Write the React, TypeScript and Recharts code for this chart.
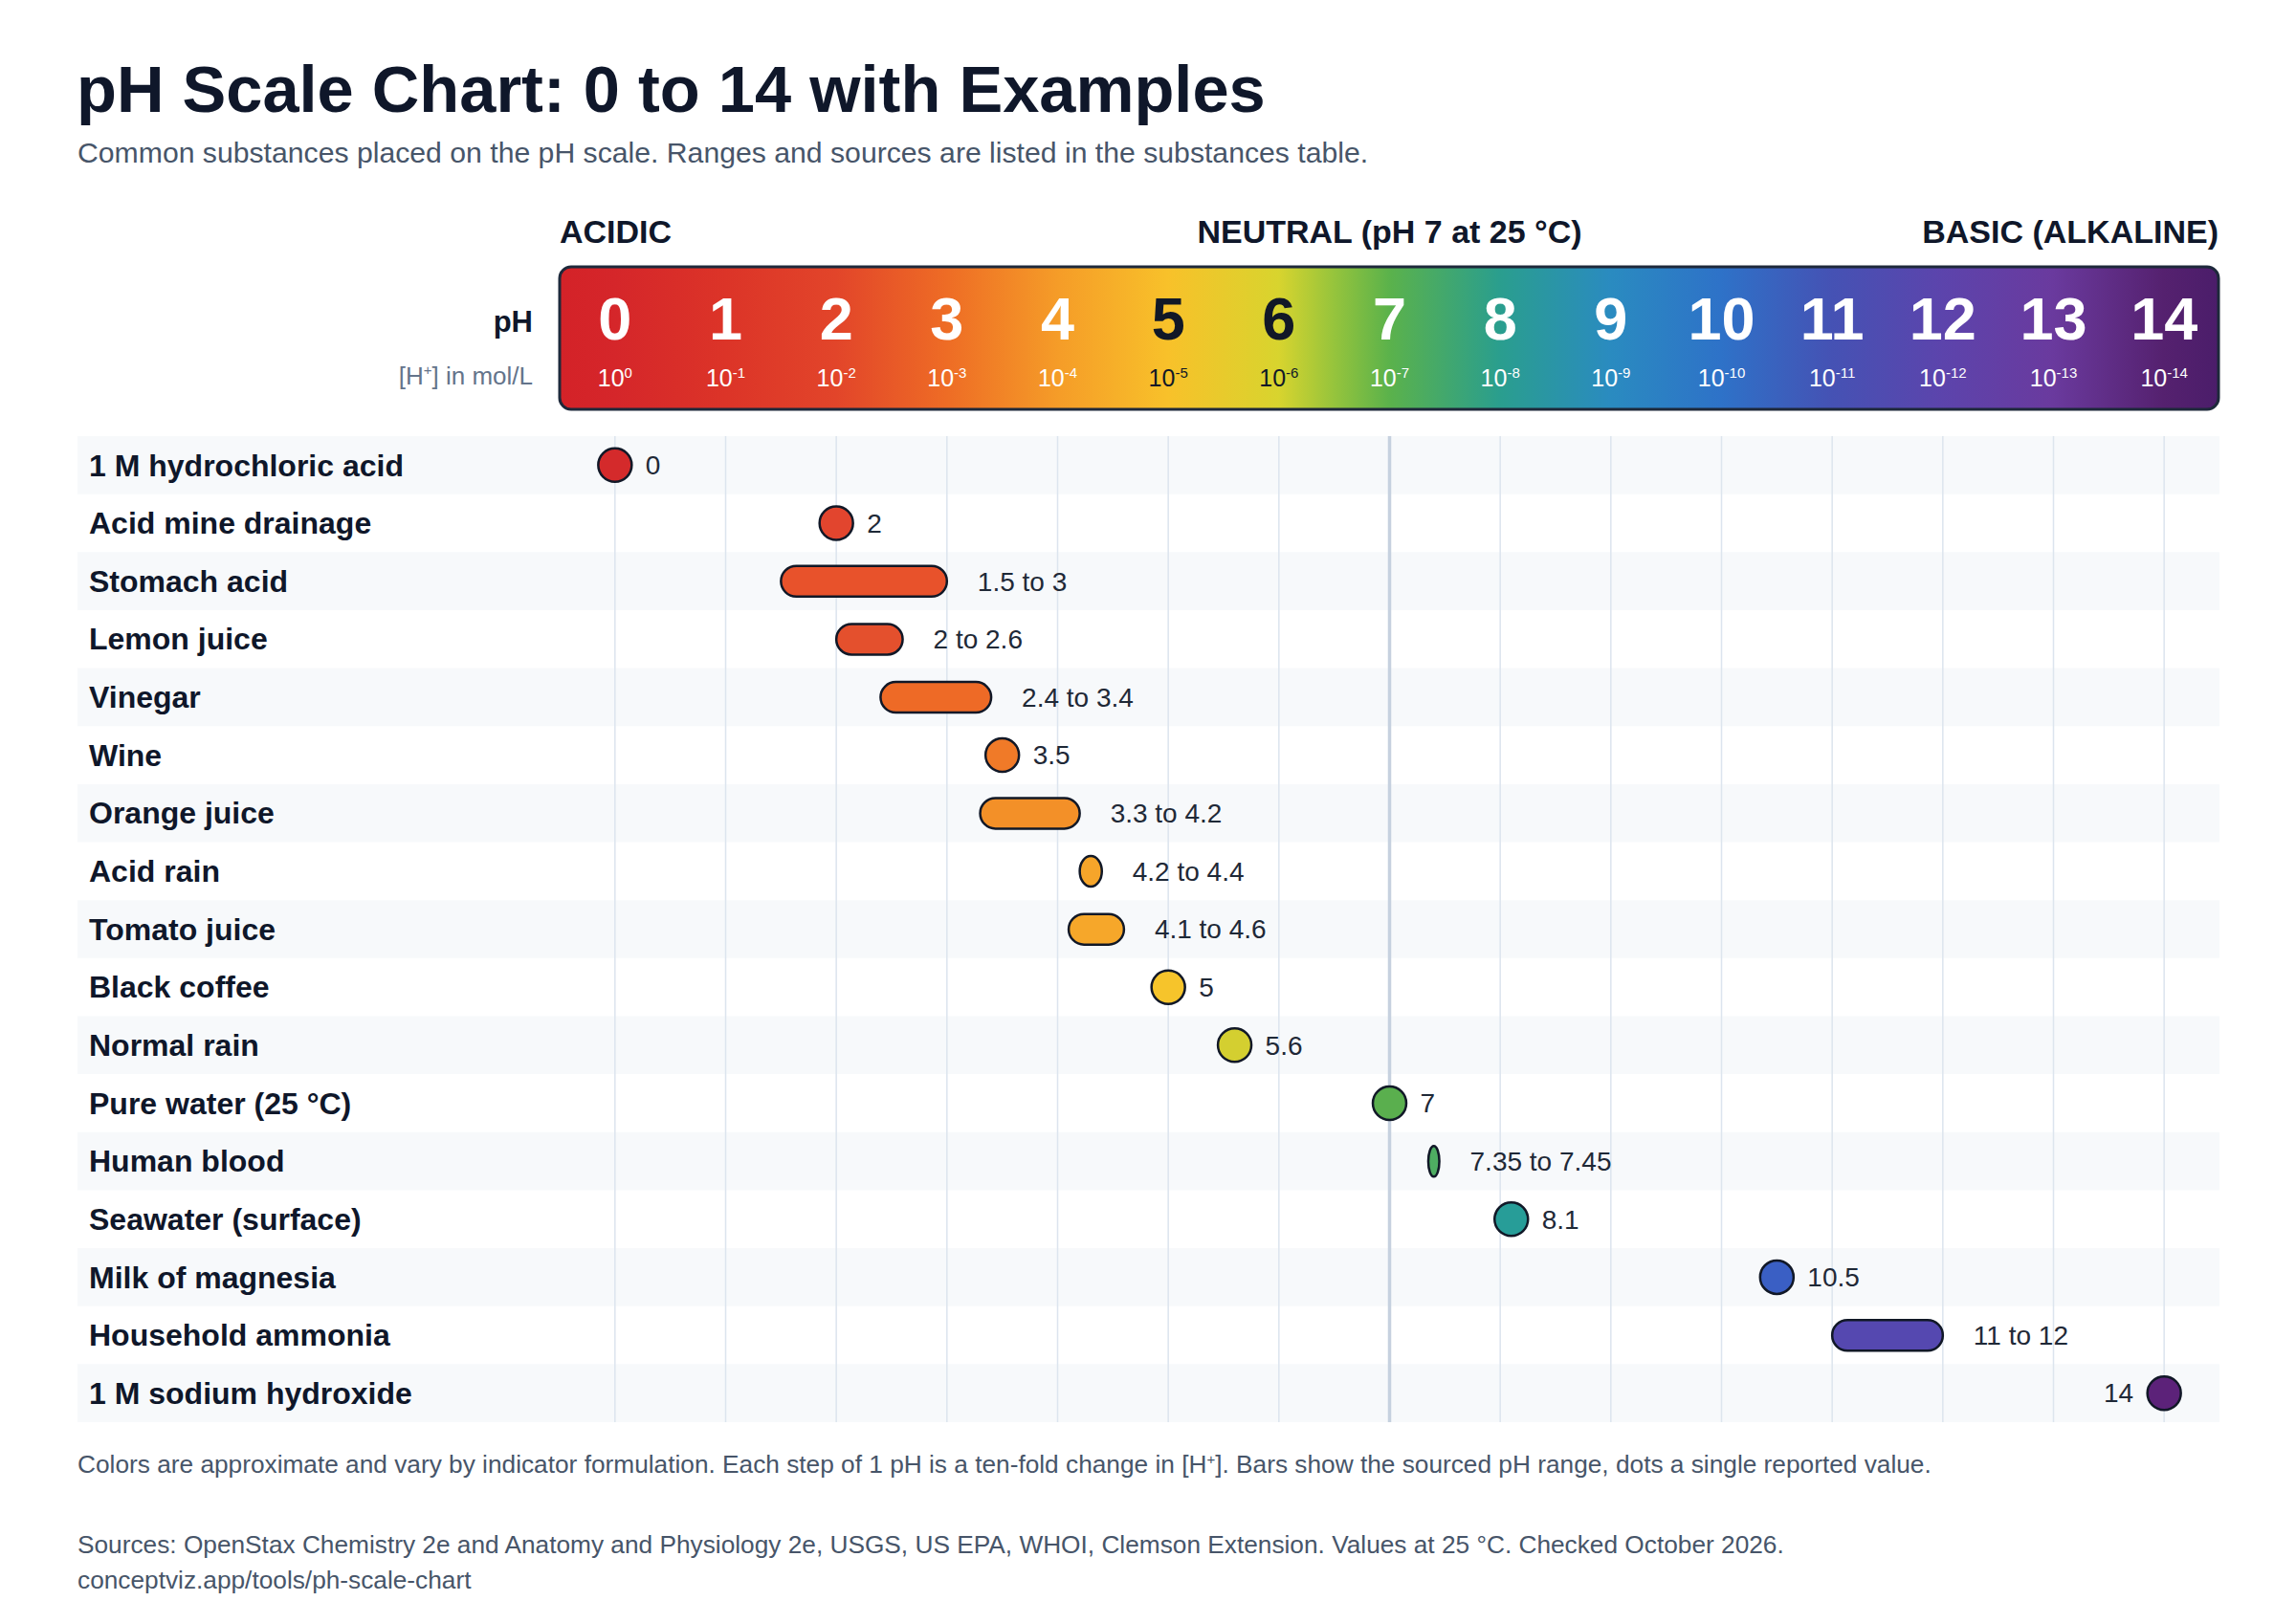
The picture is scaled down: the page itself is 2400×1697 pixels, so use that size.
import React from 'react';
import {
  ComposedChart,
  Bar,
  Scatter,
  XAxis,
  YAxis,
  CartesianGrid,
  ReferenceLine,
  ReferenceArea,
} from 'recharts';

// ---------- data ----------
const substances = [
  '1 M hydrochloric acid',
  'Acid mine drainage',
  'Stomach acid',
  'Lemon juice',
  'Vinegar',
  'Wine',
  'Orange juice',
  'Acid rain',
  'Tomato juice',
  'Black coffee',
  'Normal rain',
  'Pure water (25 °C)',
  'Human blood',
  'Seawater (surface)',
  'Milk of magnesia',
  'Household ammonia',
  '1 M sodium hydroxide',
];
const phLow = [0, 2, 1.5, 2, 2.4, 3.5, 3.3, 4.2, 4.1, 5, 5.6, 7, 7.35, 8.1, 10.5, 11, 14];
const phHigh = [0, 2, 3, 2.6, 3.4, 3.5, 4.2, 4.4, 4.6, 5, 5.6, 7, 7.45, 8.1, 10.5, 12, 14];
const markColors = [
  '#d42a2b', '#e2452e', '#e8522b', '#e4502d', '#ee6a26', '#f07a28', '#f39028', '#f6a52a',
  '#f6a72a', '#f6c42b', '#d4cf30', '#5aaf4e', '#4ead62', '#279d98', '#3a5fc4', '#5548b0', '#5c2279',
];
const phTicks = [0, 1, 2, 3, 4, 5, 6, 7, 8, 9, 10, 11, 12, 13, 14];
const hExponents = ['0', '-1', '-2', '-3', '-4', '-5', '-6', '-7', '-8', '-9', '-10', '-11', '-12', '-13', '-14'];
const darkTickValues = [5, 6];
const gradientPH = [-0.5, 0, 1, 2, 3, 4, 5, 6, 6.5, 7, 8, 9, 10, 11, 12, 13, 14, 14.5];
const gradientColors = [
  '#d42228', '#d5262a', '#dc3428', '#e2452a', '#ee6c25', '#f59c28', '#f8c12a', '#d8d42e', '#96c43c',
  '#5bb24b', '#2a9e8e', '#2a8bc0', '#2e72c8', '#4552b4', '#5c44ac', '#6a3a9e', '#55216f', '#4b1d6a',
];

// ---------- layout ----------
const W = 2400;
const H = 1697;
const PLOT_LEFT = 585;
const PLOT_RIGHT = 2320;
const PLOT_TOP = 456;
const PLOT_BOTTOM = 1487;
const ROW_LEFT = 81;
const DOMAIN: [number, number] = [-0.5, 14.5];
const PX_PER_PH = (PLOT_RIGHT - PLOT_LEFT) / (DOMAIN[1] - DOMAIN[0]);
const BAND_X1 = DOMAIN[0] - (PLOT_LEFT - ROW_LEFT) / PX_PER_PH;
const FONT = '"Liberation Sans", Arial, Helvetica, sans-serif';
const INK = '#0f172a';
const OUTLINE = '#111827';

const data = substances.map((name, i) => {
  const isPoint = phLow[i] === phHigh[i];
  return {
    name,
    range: isPoint ? null : [phLow[i], phHigh[i]],
    point: isPoint ? phLow[i] : null,
    color: markColors[i],
    label: isPoint ? String(phLow[i]) : `${phLow[i]} to ${phHigh[i]}`,
  };
});

const RangeShape = (props: any) => {
  const { x, y, width, height, payload } = props;
  if (!payload || payload.range == null || !isFinite(x) || !isFinite(width)) return null;
  const h = 32;
  const cy = y + height / 2;
  return (
    <g>
      <rect x={x} y={cy - h / 2} width={width} height={h} rx={16} ry={16}
        fill={payload.color} stroke={OUTLINE} strokeWidth={2.5} />
      <text x={x + width + 32} y={cy} dy="0.35em" fontSize={28} fill="#1f2937" fontFamily={FONT}>
        {payload.label}
      </text>
    </g>
  );
};

const PointShape = (props: any) => {
  const { cx, cy, payload } = props;
  if (!payload || payload.point == null || cx == null || !isFinite(cx)) return null;
  const left = payload.point >= 13.5;
  return (
    <g>
      <circle cx={cx} cy={cy} r={17.5} fill={payload.color} stroke={OUTLINE} strokeWidth={2.5} />
      <text x={left ? cx - 32 : cx + 32} y={cy} dy="0.35em" textAnchor={left ? 'end' : 'start'}
        fontSize={28} fill="#1f2937" fontFamily={FONT}>
        {payload.label}
      </text>
    </g>
  );
};

const PhTick = (props: any) => {
  const { x, payload, index } = props;
  const v = payload.value;
  const dark = darkTickValues.includes(v);
  const fill = dark ? '#111827' : '#ffffff';
  return (
    <g>
      <text x={x} y={355} textAnchor="middle" fontSize={63} fontWeight={700} fill={fill} fontFamily={FONT}>
        {v}
      </text>
      <text x={x} y={404} textAnchor="middle" fontSize={25} fill={fill} fontFamily={FONT}>
        10<tspan dy={-9} fontSize={15}>{hExponents[index] ?? ''}</tspan>
      </text>
    </g>
  );
};

const NameTick = (props: any) => {
  const { y, payload } = props;
  return (
    <text x={93} y={y} dy="0.35em" fontSize={32} fontWeight={700} fill={INK} fontFamily={FONT}>
      {payload.value}
    </text>
  );
};

export default function App() {
  return (
    <div style={{ position: 'absolute', left: 0, top: 0, width: W, height: H, background: '#ffffff', fontFamily: FONT }}>
      <svg width={W} height={H} style={{ position: 'absolute', left: 0, top: 0 }} fontFamily={FONT}>
        <defs>
          <linearGradient id="phGrad" x1="0" y1="0" x2="1" y2="0">
            {gradientPH.map((p, i) => (
              <stop key={i} offset={`${((p - DOMAIN[0]) / (DOMAIN[1] - DOMAIN[0])) * 100}%`} stopColor={gradientColors[i]} />
            ))}
          </linearGradient>
        </defs>
        <text x={80} y={117} fontSize={68.6} fontWeight={700} fill={INK}>pH Scale Chart: 0 to 14 with Examples</text>
        <text x={81} y={170} fontSize={30.2} fill="#475569">
          Common substances placed on the pH scale. Ranges and sources are listed in the substances table.
        </text>
        <text x={PLOT_LEFT} y={254} fontSize={34} fontWeight={700} fill={INK}>ACIDIC</text>
        <text x={PLOT_LEFT + (7 - DOMAIN[0]) * PX_PER_PH} y={254} textAnchor="middle" fontSize={34} fontWeight={700} fill={INK}>
          NEUTRAL (pH 7 at 25 °C)
        </text>
        <text x={PLOT_RIGHT - 1} y={254} textAnchor="end" fontSize={34} fontWeight={700} fill={INK}>BASIC (ALKALINE)</text>
        <rect x={PLOT_LEFT} y={279} width={PLOT_RIGHT - PLOT_LEFT - 1} height={149} rx={12} ry={12}
          fill="url(#phGrad)" stroke="#1e293b" strokeWidth={3} />
        <text x={557} y={347} textAnchor="end" fontSize={31} fontWeight={700} fill={INK}>pH</text>
        <text x={557} y={402} textAnchor="end" fontSize={26} fill="#64748b">
          [H<tspan dy={-10} fontSize={15}>+</tspan><tspan dy={10}>] in mol/L</tspan>
        </text>
        <text x={81} y={1540} fontSize={26.25} fill="#475569">
          Colors are approximate and vary by indicator formulation. Each step of 1 pH is a ten-fold change in [H
          <tspan dy={-9} fontSize={15}>+</tspan>
          <tspan dy={9}>]. Bars show the sourced pH range, dots a single reported value.</tspan>
        </text>
        <text x={81} y={1624} fontSize={26.25} fill="#475569">
          Sources: OpenStax Chemistry 2e and Anatomy and Physiology 2e, USGS, US EPA, WHOI, Clemson Extension. Values at 25 °C. Checked October 2026.
        </text>
        <text x={81} y={1661} fontSize={26.25} fill="#475569">conceptviz.app/tools/ph-scale-chart</text>
      </svg>
      <div style={{ position: 'absolute', left: 0, top: 0 }}>
        <ComposedChart
          width={W}
          height={H}
          data={data}
          layout="vertical"
          margin={{ top: 270, right: W - PLOT_RIGHT, bottom: H - PLOT_BOTTOM, left: 0 }}
          barCategoryGap={0}
          style={{ fontFamily: FONT }}
        >
          {data.map((d, i) =>
            i % 2 === 0 ? (
              <ReferenceArea key={d.name} y1={d.name} y2={d.name} x1={BAND_X1} x2={DOMAIN[1]}
                fill="#e2e8f0" fillOpacity={0.26} stroke="none" ifOverflow="visible" />
            ) : null,
          )}
          <CartesianGrid horizontal={false} vertical syncWithTicks stroke="#dce4ee" strokeWidth={1.5} />
          <ReferenceLine x={7} stroke="#c6d1df" strokeWidth={3.5} />
          <XAxis type="number" orientation="top" domain={DOMAIN} ticks={phTicks} interval={0}
            height={PLOT_TOP - 270} axisLine={false} tickLine={false} tick={<PhTick />} allowDataOverflow />
          <YAxis type="category" dataKey="name" width={PLOT_LEFT} interval={0}
            axisLine={false} tickLine={false} tick={<NameTick />} />
          <Bar dataKey="range" isAnimationActive={false} shape={<RangeShape />} />
          <Scatter dataKey="point" isAnimationActive={false} shape={<PointShape />} />
        </ComposedChart>
      </div>
    </div>
  );
}
